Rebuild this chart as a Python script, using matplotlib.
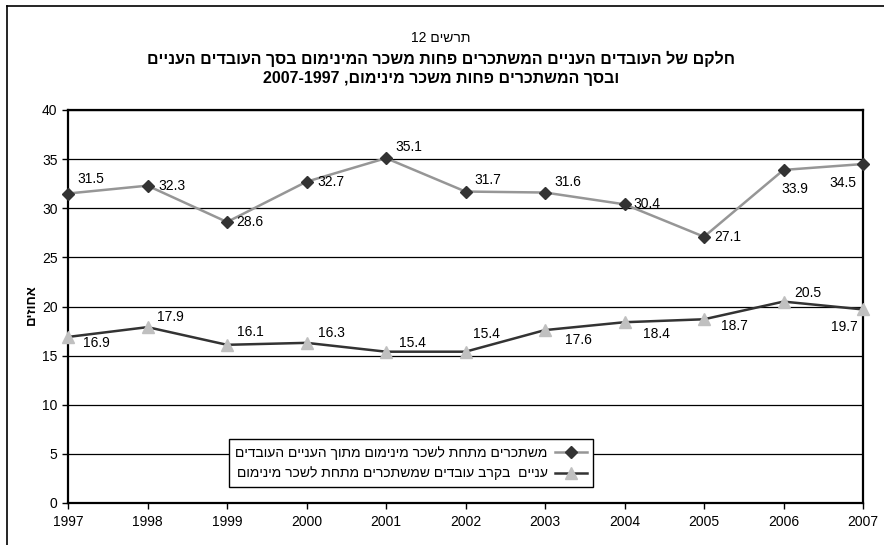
import re

import matplotlib
matplotlib.use("Agg")
import matplotlib.pyplot as plt
from matplotlib.lines import Line2D

plt.rcParams["font.family"] = ["Liberation Sans", "DejaVu Sans"]

years = [1997, 1998, 1999, 2000, 2001, 2002, 2003, 2004, 2005, 2006, 2007]
low_wage_of_poor = [31.5, 32.3, 28.6, 32.7, 35.1, 31.7, 31.6, 30.4, 27.1, 33.9, 34.5]
poor_of_low_wage = [16.9, 17.9, 16.1, 16.3, 15.4, 15.4, 17.6, 18.4, 18.7, 20.5, 19.7]
yticks = [0, 5, 10, 15, 20, 25, 30, 35, 40]

fig_label = "תרשים 12"
title1 = "חלקם של העובדים העניים המשתכרים פחות משכר המינימום בסך העובדים העניים"
title2 = "ובסך המשתכרים פחות משכר מינימום, 2007-1997"
ylabel = "אחוזים"
leg1 = "משתכרים מתחת לשכר מינימום מתוך העניים העובדים"
leg2 = "עניים  בקרב עובדים שמשתכרים מתחת לשכר מינימום"

# label offsets in pixels (dx right, dy down) from each point
off1 = [(23, -15), (24, 0), (23, 0), (24, 0), (23, -11), (22, -12),
        (23, -11), (22, 0), (24, 0), (11, 19), (-20, 19)]
off2 = [(28, 6), (23, -10), (23, -13), (25, -10), (26, -9), (21, -18),
        (33, 10), (32, 12), (30, 7), (24, -9), (-19, 18)]


def rtl(s):
    """logical Hebrew -> visual order (keep digit runs left-to-right)"""
    r = s[::-1]
    return re.sub(r"[0-9A-Za-z][0-9A-Za-z.\-]*[0-9A-Za-z]|[0-9A-Za-z]",
                  lambda m: m.group(0)[::-1], r)


W, H = 884, 545
fig = plt.figure(figsize=(W / 100, H / 100), dpi=100)
ax = fig.add_axes([68 / W, 1 - 503 / H, (863 - 68) / W, (503 - 110) / H])

# outer chart frame (runs off the right and bottom of the image)
fig.add_artist(Line2D([7 / W, 7 / W], [0, 1 - 6 / H], color="black", lw=1.2,
                      transform=fig.transFigure))
fig.add_artist(Line2D([7 / W, 1], [1 - 6 / H, 1 - 6 / H], color="black", lw=1.2,
                      transform=fig.transFigure))

ax.set_xlim(1997, 2007)
ax.set_ylim(0, 40)
ax.set_yticks(yticks)
ax.set_xticks(years)
ax.yaxis.grid(True, color="black", lw=0.9)
ax.set_axisbelow(True)
for sp in ax.spines.values():
    sp.set_linewidth(1.6)
ax.tick_params(axis="both", direction="out", length=4, width=1, labelsize=10)
ax.tick_params(axis="x", pad=5)

ax.plot(years, low_wage_of_poor, color="#969696", lw=1.8, marker="D", ms=6,
        mfc="#333333", mec="#333333", clip_on=False, zorder=3)
ax.plot(years, poor_of_low_wage, color="#333333", lw=1.8, marker="^", ms=8.5,
        mfc="#c0c0c0", mec="#c0c0c0", clip_on=False, zorder=3)

for x, y, (dx, dy) in zip(years, low_wage_of_poor, off1):
    ax.annotate(f"{y:.1f}", (x, y), xytext=(dx, -dy), textcoords="offset pixels",
                ha="center", va="center", fontsize=10)
for x, y, (dx, dy) in zip(years, poor_of_low_wage, off2):
    ax.annotate(f"{y:.1f}", (x, y), xytext=(dx, -dy), textcoords="offset pixels",
                ha="center", va="center", fontsize=10)

h1 = Line2D([], [], color="#969696", lw=1.8, marker="D", ms=6, mfc="#333333", mec="#333333")
h2 = Line2D([], [], color="#333333", lw=1.8, marker="^", ms=8.5, mfc="#c0c0c0", mec="#c0c0c0")
leg = ax.legend([h1, h2], [rtl(leg1), rtl(leg2)], markerfirst=False, loc="center",
                bbox_to_anchor=((411 - 68) / 795, (503 - 463) / 393), fontsize=10,
                fancybox=False, edgecolor="black", framealpha=1, handlelength=2.3,
                handletextpad=0.5, borderpad=0.45, labelspacing=0.5, borderaxespad=0)
leg.get_frame().set_linewidth(1.0)

fig.text(441 / W, 1 - 38 / H, rtl(fig_label), ha="center", va="center", fontsize=10)
fig.text(441 / W, 1 - 59 / H, rtl(title1), ha="center", va="center", fontsize=11.5,
         fontweight="bold")
fig.text(441 / W, 1 - 78 / H, rtl(title2), ha="center", va="center", fontsize=11.5,
         fontweight="bold")
fig.text(32 / W, 1 - 305 / H, rtl(ylabel), ha="center", va="center", fontsize=9.5,
         fontweight="bold", rotation=90)

fig.savefig("out.png", dpi=100)
